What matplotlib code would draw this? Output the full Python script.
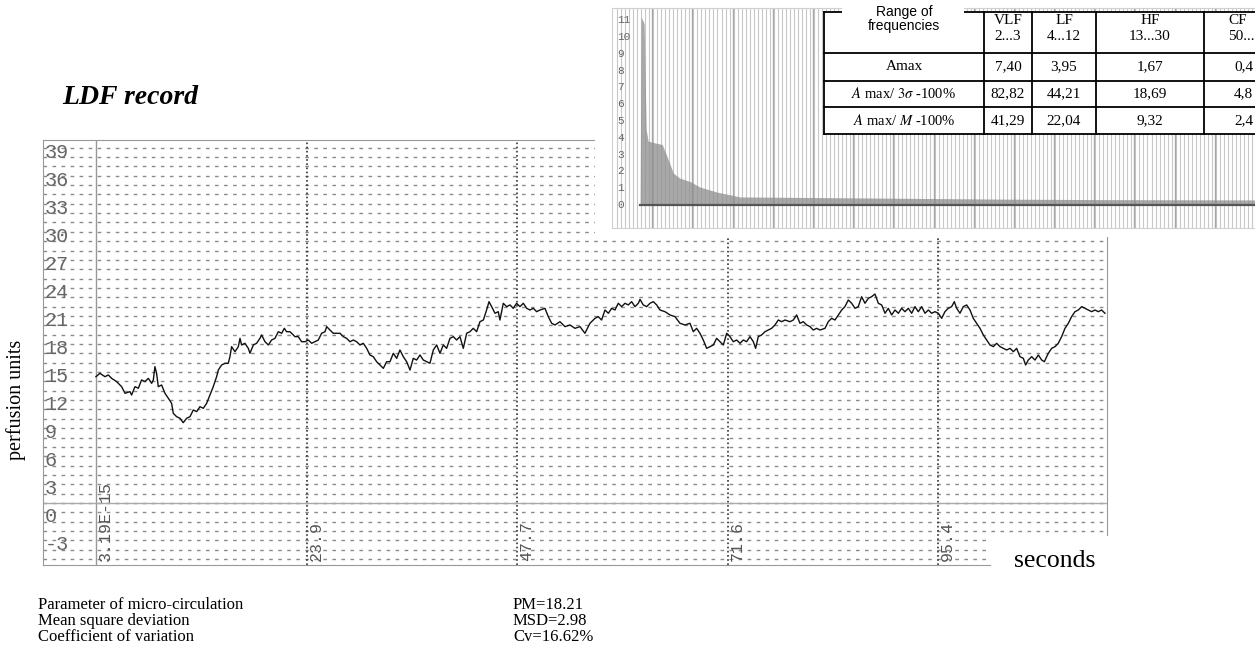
import numpy as np
import matplotlib
matplotlib.use("Agg")
import matplotlib.pyplot as plt
from matplotlib.patches import Rectangle

plt.rcParams["mathtext.fontset"] = "stix"

W, H = 1255, 661

# LDF trace: (time in s, perfusion units)
trace_part1 = [
    (0.0, 13.51), (0.45, 13.87), (1.02, 13.51), (1.40, 13.69), (1.78, 13.33), (2.34, 12.98),
    (2.91, 12.44), (3.29, 11.73), (3.85, 11.91), (4.04, 11.55), (4.42, 12.44), (4.80, 12.27),
    (5.17, 13.16), (5.55, 12.98), (5.93, 13.33), (6.31, 12.80), (6.50, 13.16), (6.68, 14.58),
    (6.87, 13.87), (7.06, 12.44), (7.44, 12.62), (7.82, 11.73), (8.20, 11.20), (8.57, 10.66),
    (8.76, 9.59), (9.14, 9.23), (9.52, 9.06), (9.89, 8.59), (10.27, 9.06), (10.65, 9.23),
    (11.03, 9.95), (11.41, 9.77), (11.78, 10.30), (12.16, 10.13), (12.54, 10.66), (12.92, 11.55),
    (13.29, 12.44), (13.67, 13.51), (13.86, 14.22), (14.24, 14.76), (14.62, 14.94), (14.99, 14.94),
    (15.18, 15.65), (15.37, 16.72), (15.75, 16.18), (16.13, 16.72), (16.32, 17.61), (16.50, 16.90),
    (16.88, 17.08), (17.26, 16.54), (17.45, 16.01), (17.83, 16.90), (18.20, 17.08), (18.58, 17.61),
    (18.77, 17.97), (19.15, 17.25), (19.53, 16.90), (19.90, 17.43), (20.28, 17.61), (20.66, 18.32),
    (21.04, 18.15), (21.34, 18.68), (21.60, 18.32), (21.98, 18.32), (22.55, 17.79), (22.92, 17.79),
    (23.30, 17.25), (23.68, 17.25), (24.06, 17.43), (24.44, 17.08), (24.81, 17.25), (25.19, 17.43),
    (25.57, 18.15), (25.95, 18.32), (26.14, 18.86), (26.51, 18.50), (26.89, 18.15),
]
trace_part2 = [
    (27.65, 18.15), (28.02, 17.79), (28.40, 17.61), (28.78, 17.25), (29.16, 17.43), (29.53, 17.25),
    (29.91, 16.90), (30.29, 17.08), (30.67, 16.54), (31.04, 15.83), (31.42, 15.65), (31.80, 15.11),
    (32.18, 14.76), (32.56, 14.40), (32.93, 15.11), (33.31, 15.11), (33.69, 16.01), (34.07, 15.47),
    (34.44, 16.36), (34.82, 15.65), (35.20, 15.11), (35.58, 14.22), (35.95, 15.47), (36.33, 15.29),
    (36.71, 15.83), (37.09, 15.29), (37.47, 15.11), (37.84, 14.94), (38.22, 16.36), (38.60, 16.90),
    (38.98, 16.01), (39.35, 16.90), (39.73, 16.54), (40.11, 17.61), (40.49, 17.79), (40.86, 17.43),
    (41.24, 17.79), (41.62, 16.54), (42.00, 18.15), (42.37, 18.32), (42.75, 18.68), (43.13, 18.32),
    (43.51, 19.39), (43.89, 19.57), (44.26, 20.64), (44.53, 21.53), (44.83, 21.00), (45.21, 20.29),
    (45.58, 20.46), (45.77, 19.57), (46.15, 21.36), (46.53, 21.00), (46.91, 21.18), (47.28, 20.82),
    (47.66, 21.36), (48.04, 21.00), (48.42, 21.36), (48.80, 20.82), (49.17, 20.64), (49.55, 20.82),
    (49.93, 20.46), (50.31, 20.64), (50.87, 20.82), (51.25, 19.93), (51.63, 19.22), (52.01, 19.04),
    (52.57, 19.39), (53.14, 18.86), (53.71, 19.04), (54.27, 18.68), (54.84, 18.86), (55.40, 18.15),
]
trace_part3 = [
    (55.97, 19.22), (56.54, 19.75), (56.91, 19.93), (57.29, 19.57), (57.67, 20.64), (58.05, 20.29),
    (58.43, 20.82), (58.80, 20.64), (59.18, 21.36), (59.56, 21.00), (59.94, 21.36), (60.31, 21.18),
    (60.69, 21.53), (61.07, 21.00), (61.45, 21.36), (61.64, 21.78), (62.01, 21.18), (62.39, 21.00),
    (62.77, 21.36), (63.15, 21.53), (63.53, 21.18), (63.90, 20.64), (64.47, 20.46), (65.04, 20.11),
    (65.60, 19.93), (66.17, 19.22), (66.73, 19.04), (67.30, 19.22), (67.68, 18.32), (68.06, 18.68),
    (68.43, 18.15), (68.81, 17.43), (69.19, 16.54), (69.57, 16.72), (69.95, 16.90), (70.32, 17.61),
    (70.70, 17.25), (71.08, 16.90), (71.46, 18.15), (71.83, 17.79), (72.21, 17.25), (72.59, 17.43),
    (72.97, 17.08), (73.34, 17.43), (73.72, 17.25), (74.10, 17.79), (74.48, 17.25), (74.74, 16.54),
    (75.04, 17.79), (75.42, 17.97), (75.80, 18.32), (76.18, 18.50), (76.55, 18.68), (76.93, 19.04),
    (77.31, 19.57), (77.69, 19.39), (78.07, 19.57), (78.63, 19.39), (79.01, 19.57), (79.39, 20.11),
    (79.76, 19.22), (80.14, 19.39), (80.52, 19.04), (80.90, 18.86), (81.27, 18.50), (81.65, 18.68),
    (82.03, 18.50), (82.60, 18.68), (82.97, 19.39), (83.35, 19.75), (83.73, 19.57),
]
trace_part4 = [
    (84.11, 20.11), (84.49, 20.64), (84.86, 21.00), (85.24, 21.71), (85.62, 21.36), (86.00, 20.82),
    (86.37, 21.00), (86.75, 22.06), (87.13, 21.36), (87.51, 21.89), (87.88, 22.06), (88.26, 22.35),
    (88.64, 21.36), (89.02, 21.18), (89.40, 20.29), (89.77, 20.82), (90.15, 20.11), (90.53, 20.64),
    (90.91, 20.29), (91.28, 20.82), (91.66, 20.46), (92.04, 20.82), (92.42, 20.29), (92.79, 21.00),
    (93.17, 20.46), (93.55, 21.00), (93.93, 20.29), (94.31, 20.64), (94.68, 20.29), (95.06, 20.46),
    (95.44, 20.29), (95.82, 19.75), (96.19, 20.46), (96.57, 20.82), (96.95, 21.00), (97.25, 21.53),
    (97.52, 20.82), (97.89, 20.29), (98.27, 21.00), (98.65, 21.18), (99.03, 20.64), (99.40, 19.75),
    (99.78, 19.22), (100.16, 18.68), (100.54, 17.97), (100.92, 17.43), (101.29, 16.90), (101.67, 16.72),
    (102.05, 17.08), (102.43, 16.72), (102.80, 16.54), (103.18, 16.36), (103.56, 16.54), (103.94, 16.18),
    (104.31, 16.54), (104.69, 15.65), (105.07, 15.47), (105.33, 14.76), (105.63, 15.29), (106.01, 15.65),
    (106.39, 15.29), (106.77, 15.83), (107.15, 15.29), (107.45, 15.11), (107.90, 16.01), (108.28, 16.54),
    (108.66, 16.72), (109.03, 17.08), (109.41, 17.79), (109.79, 18.68), (110.17, 19.22), (110.54, 19.93),
    (110.92, 20.46), (111.30, 20.64), (111.68, 21.00), (112.06, 20.82), (112.43, 20.64), (112.81, 20.46),
    (113.19, 20.64), (113.57, 20.46), (113.94, 20.64), (114.32, 20.29),
]

tick_times = [0.0, 23.9, 47.7, 71.6, 95.4]
tick_labels = ["3.19E-15", "23.9", "47.7", "71.6", "95.4"]
y_ticks = [39, 36, 33, 30, 27, 24, 21, 18, 15, 12, 9, 6, 3, 0, -3]

# amplitude spectrum (inset), harmonic index vs amplitude %
spec_freq = [5.6, 5.8, 6.4, 6.8, 7.2, 8.5, 10.0, 11.2, 12.2, 13.5, 15.5, 17.5, 20.9, 25.5,
             37.5, 57.4, 77.3, 97.2, 128.0]
spec_amp = [0.0, 11.2, 10.8, 4.5, 3.8, 3.7, 3.6, 2.7, 1.9, 1.6, 1.4, 1.07, 0.77, 0.48,
            0.45, 0.40, 0.35, 0.32, 0.30]
spec_ticks = list(range(12))

# table
col_head = ["VLF", "LF", "HF", "CF"]
col_range = ["2...3", "4...12", "13...30", "50..."]
row_names = ["Amax", r"$A$ max/ $3\sigma$ -100%", r"$A$ max/ $M$ -100%"]
amax = ["7,40", "3,95", "1,67", "0,4"]
amax_3s = ["82,82", "44,21", "18,69", "4,8"]
amax_m = ["41,29", "22,04", "9,32", "2,4"]

stat_names = ["Parameter of micro-circulation", "Mean square deviation", "Coefficient of variation"]
stat_values = ["PM=18.21", "MSD=2.98", "Cv=16.62%"]


def frac(x0, y0, x1, y1):
    # pixel box (top-left origin) -> figure fraction rect
    return [x0 / W, 1 - y1 / H, (x1 - x0) / W, (y1 - y0) / H]


fig = plt.figure(figsize=(W / 100, H / 100), dpi=100)

# ---- main LDF record ----
ax = fig.add_axes(frac(43, 140, 1107, 565), zorder=1)
t, v = np.array(trace_part1 + trace_part2 + trace_part3 + trace_part4).T
ax.set_xlim(-6.0, 114.55)
ax.set_ylim(-6.63, 38.82)
ax.hlines(np.arange(-6, 39), -6.0, 114.55, colors="#8a8a8a", lw=1.0,
          linestyles=[(0, (2.6, 3.9))])
ax.vlines(tick_times[1:], -6.63, 38.82, colors="#333333", lw=1.2, linestyles=[(0, (1, 1.5))])
ax.axvline(0, color="#999999", lw=1.0)
ax.axhline(0, color="#aaaaaa", lw=1.0)
ax.plot(t, v, color="#111111", lw=1.0)
ax.set_xticks([])
ax.set_yticks([])
for s in ax.spines.values():
    s.set_color("#999999")
for yt in y_ticks:
    ax.annotate(str(yt), (-5.8, yt), xytext=(0, -10), textcoords="offset points",
                ha="left", va="center", fontsize=14.5, family="Liberation Mono",
                color="#666666", annotation_clip=False)
for tt, lab in zip(tick_times, tick_labels):
    ax.text(tt + 0.2, -6.2, lab, rotation=90, ha="left", va="bottom", fontsize=12,
            family="Liberation Mono", color="#555555")

# white backing of the spectrum inset
fig.add_artist(Rectangle((595 / W, 1 - 237 / H), (W - 595) / W, 237 / H,
                         transform=fig.transFigure, facecolor="white", edgecolor="none",
                         zorder=2))

# ---- spectrum inset ----
sx = fig.add_axes(frac(612, 8, W, 228), zorder=3)
sx.set_xlim(0, 128)
sx.set_ylim(-1.37, 11.73)
sx.vlines(np.arange(1, 128, 0.8), -1.37, 11.73, colors="#c8c8c8", lw=0.8, zorder=1)
sx.vlines(np.arange(8, 128, 8), -1.37, 11.73, colors="#a8a8a8", lw=1.0, zorder=1)
sx.fill_between(spec_freq, 0, spec_amp, color="#8c8c8c", alpha=0.75, lw=0, zorder=2)
sx.axhline(0, xmin=5.5 / 128, color="#555555", lw=1.6, zorder=3)
for k in spec_ticks:
    sx.text(1.0, k, str(k), fontsize=8, color="#666666", va="center", ha="left",
            family="Liberation Mono")
sx.set_xticks([])
sx.set_yticks([])
for s in sx.spines.values():
    s.set_color("#d0d0d0")

# ---- overlay: table and texts in pixel units ----
ov = fig.add_axes([0, 0, 1, 1], zorder=4)
ov.set_xlim(0, W)
ov.set_ylim(H, 0)
ov.axis("off")

col_edges = [824, 984, 1032, 1096, 1204, 1300]
row_edges = [12, 53, 81, 107, 134]
ov.add_patch(Rectangle((col_edges[0], row_edges[0]), col_edges[-1] - col_edges[0],
                       row_edges[-1] - row_edges[0], facecolor="white", edgecolor="none"))
for y in row_edges:
    ov.plot([col_edges[0], col_edges[-1]], [y, y], color="black", lw=1.3)
for x in col_edges[:-1]:
    ov.plot([x, x], [row_edges[0], row_edges[-1]], color="black", lw=1.3)

ov.add_patch(Rectangle((842, 0), 122, 37, facecolor="white", edgecolor="none", zorder=3))
ov.text(904, 19, "Range of\nfrequencies", ha="center", va="center", fontsize=10,
        family="Liberation Sans", linespacing=0.95, zorder=4)

serif = "Liberation Serif"
for i in range(4):
    cx = (col_edges[i + 1] + col_edges[i + 2]) / 2 if i < 3 else 1228
    ha = "center" if i < 3 else "left"
    ov.text(cx, 20, col_head[i], ha=ha, va="center", fontsize=11, family=serif)
    ov.text(cx, 37, col_range[i], ha=ha, va="center", fontsize=11, family=serif)
    for vals, r in zip([amax, amax_3s, amax_m], range(3)):
        cy = (row_edges[r + 1] + row_edges[r + 2]) / 2
        ov.text(cx if i < 3 else 1234, cy, vals[i], ha=ha, va="center", fontsize=11,
                family=serif)
for r, name in enumerate(row_names):
    cy = (row_edges[r + 1] + row_edges[r + 2]) / 2
    ov.text((col_edges[0] + col_edges[1]) / 2, cy, name, ha="center", va="center",
            fontsize=10.5 if r else 11, family=serif)

ov.text(62, 97, "LDF record", fontsize=20, family=serif, weight="bold", style="italic",
        ha="left", va="center")
ov.text(16, 400, "perfusion units", rotation=90, fontsize=14.5, family=serif,
        ha="center", va="center")
ov.add_patch(Rectangle((991, 536), 140, 46, facecolor="white", edgecolor="none"))
ov.text(1055, 561, "seconds", fontsize=18.5, family=serif, ha="center", va="center")

for k, (name, val) in enumerate(zip(stat_names, stat_values)):
    y = 605 + k * 16
    ov.text(38, y, name, fontsize=12, family=serif, ha="left", va="center")
    ov.text(513, y, val, fontsize=12, family=serif, ha="left", va="center")

fig.savefig("out.png", dpi=100)
